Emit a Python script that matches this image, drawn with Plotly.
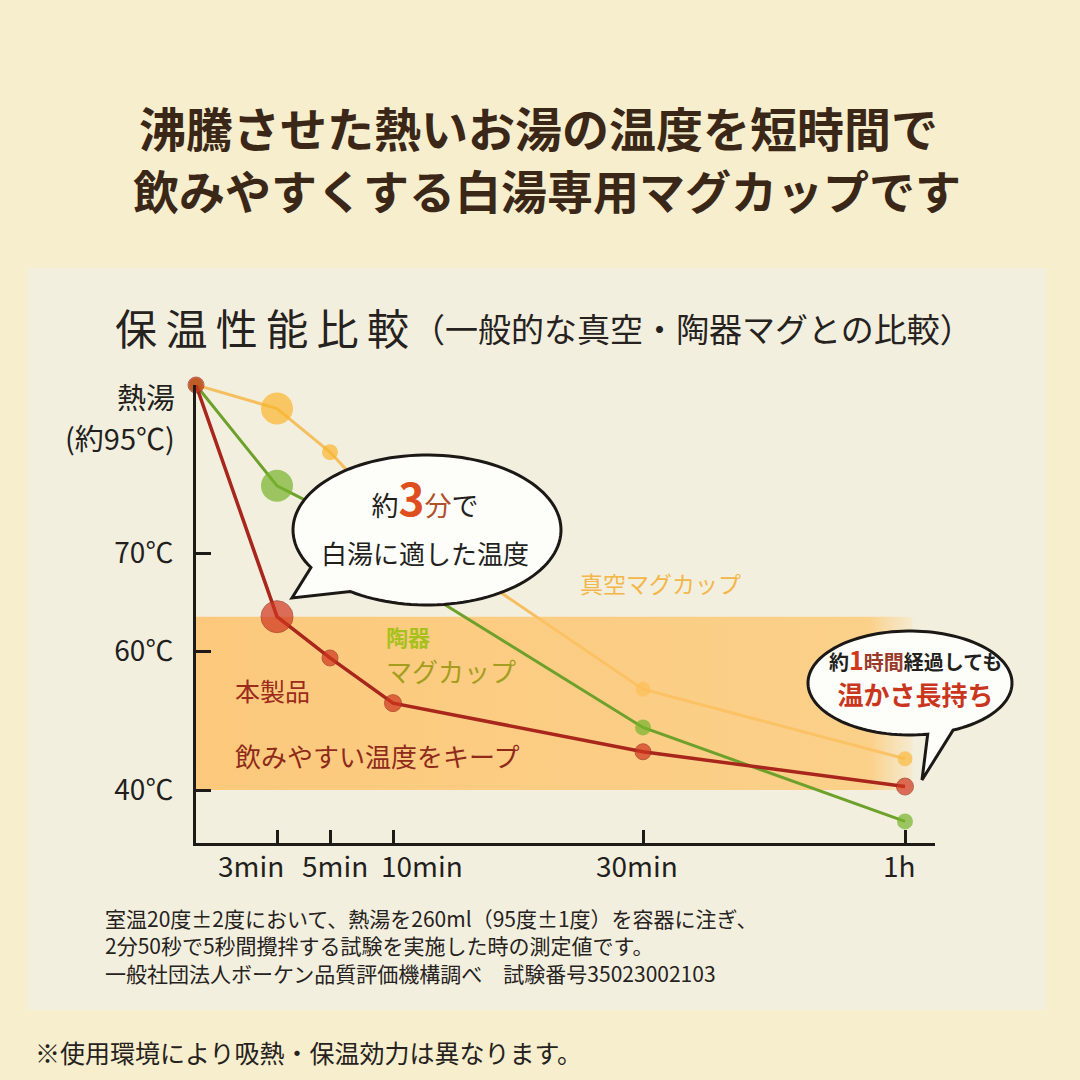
import numpy as np
import plotly.graph_objects as go

# ---------------- data ----------------
time_min = [0, 3, 5, 10, 30, 60]
x_tick_times = [3, 5, 10, 30, 60]
x_tick_labels = ["3min", "5min", "10min", "30min", "1h"]

temp_honsei = [95, 63.5, 59, 52.5, 45.5, 40.5]   # 本製品
temp_toki = [95, 80, 76, 68, 49, 35.5]           # 陶器マグカップ
temp_shinku = [95, 91.5, 85, 75, 54.5, 44.5]     # 真空マグカップ

y_tick_temps = [70, 60, 40]
y_tick_labels = ["70℃", "60℃", "40℃"]

band_temps = [40, 63.5]       # 飲みやすい温度をキープ
band_times = [0, 61]

# ---------------- broken (hand-drawn) axis scales of the original ----------------
X_SCALE_MIN = [0, 3, 5, 10, 30, 60, 64]
X_SCALE_POS = [0, 81, 134, 197, 447, 709, 739]
Y_SCALE_T = [32.4, 40, 60, 70, 95]
Y_SCALE_POS = [0, 53, 192, 290, 458]


def sx(t):
    return np.interp(t, X_SCALE_MIN, X_SCALE_POS)


def sy(v):
    return np.interp(v, Y_SCALE_T, Y_SCALE_POS)


# plot-area frame in page pixels
L, R, T, B = 196, 935, 385, 843
W, H = 1080, 1080


def px(xp):
    return (xp - L) / (R - L)


def py(yp):
    return (B - yp) / (B - T)


FONT = "Noto Sans CJK JP, Noto Sans, sans-serif"
INK = "#231f1c"

RED_LINE, RED_DOT = "#a8261b", "#d0361f"
GRN_LINE, GRN_DOT = "#6ea12b", "#76b42c"
ORG_LINE, ORG_DOT = "#f5bf5f", "#f9b52c"

fig = go.Figure()

# vacuum mug (drawn first so the band veils its lower part)
fig.add_trace(go.Scatter(
    x=sx(time_min), y=sy(temp_shinku), mode="lines+markers",
    line=dict(color=ORG_LINE, width=3),
    marker=dict(color=ORG_DOT, size=[14, 32, 16, 16, 15, 15], line=dict(width=0)),
    cliponaxis=False, hoverinfo="skip", showlegend=False))

# drinkable-temperature band
bx0, bx1 = sx(band_times[0]), sx(band_times[1])
by0, by1 = sy(band_temps[0]), sy(band_temps[1])
fig.add_trace(go.Scatter(
    x=[bx0, bx1, bx1, bx0, bx0], y=[by0, by0, by1, by1, by0],
    mode="lines", line=dict(width=0), fill="toself",
    fillcolor="rgba(254,194,102,0.75)",
    fillgradient=dict(type="horizontal", colorscale=[
        [0, "rgba(254,190,96,0.78)"], [0.94, "rgba(254,196,104,0.72)"],
        [1, "rgba(254,205,120,0.15)"]]),
    hoverinfo="skip", showlegend=False))

# ceramic mug
fig.add_trace(go.Scatter(
    x=sx(time_min), y=sy(temp_toki), mode="lines+markers",
    line=dict(color=GRN_LINE, width=3),
    marker=dict(color=GRN_DOT, size=[14, 32, 15, 15, 16, 16], line=dict(width=0)),
    cliponaxis=False, hoverinfo="skip", showlegend=False))

# this product
fig.add_trace(go.Scatter(
    x=sx(time_min), y=sy(temp_honsei), mode="lines+markers",
    line=dict(color=RED_LINE, width=3.5),
    marker=dict(color=RED_DOT, size=[16, 32, 16, 17, 16, 17],
                line=dict(width=1, color="#a22a1c")),
    cliponaxis=False, hoverinfo="skip", showlegend=False))


# ---------------- speech bubbles ----------------
def bubble_path(cx, cy, rx, ry, a_lo, a_hi, tip):
    ang = np.radians(np.linspace(a_hi, a_lo + 360, 120))
    pts = [(cx + rx * np.cos(a), cy + ry * np.sin(a)) for a in ang]
    pts.append(tip)
    s = "M " + " L ".join(f"{px(x):.5f},{py(y):.5f}" for x, y in pts) + " Z"
    return s


shapes = [
    dict(type="rect", xref="paper", yref="paper",
         x0=px(28), x1=px(1046), y0=py(268), y1=py(1010),
         fillcolor="#f3efdf", line=dict(width=0), layer="below"),
    dict(type="path", xref="paper", yref="paper",
         path=bubble_path(427, 530, 134, 75, 125, 150, (292, 598)),
         fillcolor="#fdfdfa", line=dict(color="#1b1816", width=3), layer="above"),
    dict(type="path", xref="paper", yref="paper",
         path=bubble_path(910, 683, 102, 52, 65, 80, (922, 780)),
         fillcolor="#fdfdfa", line=dict(color="#1b1816", width=3), layer="above"),
]


def ann(text, x, y, size, color=INK, xa="left", weight="normal"):
    return dict(text=text, x=px(x), y=py(y), xref="paper", yref="paper",
                xanchor=xa, yanchor="middle", showarrow=False,
                font=dict(family=FONT, size=size, color=color, weight=weight))


TITLE = "#3a2717"
anns = [
    ann("沸騰させた熱いお湯の温度を短時間で", 538, 127, 47, TITLE, "center", "bold"),
    ann("飲みやすくする白湯専用マグカップです", 547, 189, 46, TITLE, "center", "bold"),
    ann("\u2009".join("保温性能比較"), 113, 326, 42, "#262220"),
    ann("（一般的な真空・陶器マグとの比較）", 410, 328, 33, "#262220"),
    ann("熱湯", 177, 396, 29, INK, "right"),
    ann("(約95℃)", 177, 437, 29, INK, "right"),
    ann("真空マグカップ", 660, 583, 23, "#f2b649", "center"),
    ann("陶器", 384, 636, 22, "#a6c11c", "left", "bold"),
    ann("マグカップ", 384, 670, 26, "#a59d1d"),
    ann("本製品", 233, 690, 25, "#9b2b1c"),
    ann("飲みやすい温度をキープ", 233, 755, 26, "#8f2a1b"),
    # bubble 1 (two lines in one text)
    ann("<span style='font-size:27px'>約</span>"
        "<span style='font-size:44px;color:#df4f1e'><b>3</b></span>"
        "<span style='font-size:27px;color:#b0502a'>分</span>"
        "<span style='font-size:27px'>で</span><br>"
        "<span style='font-size:26px'>白湯に適した温度</span>",
        425, 518, 37, INK, "center"),
    # bubble 2 (two lines in one text)
    ann("<span style='font-size:20px'>約</span>"
        "<span style='font-size:25px;color:#d0381c'>1</span>"
        "<span style='font-size:20px;color:#9a3a2a'>時間</span>"
        "<span style='font-size:20px'>経過しても</span><br>"
        "<span style='font-size:26px;color:#c9361d'>温かさ長持ち</span>",
        915, 676, 27, INK, "center", "bold"),
    ann("室温20度±2度において、熱湯を260ml（95度±1度）を容器に注ぎ、<br>"
        "2分50秒で5秒間攪拌する試験を実施した時の測定値です。<br>"
        "一般社団法人ボーケン品質評価機構調べ　試験番号35023002103",
        103, 945, 21, "#262220"),
    ann("※使用環境により吸熱・保温効力は異なります。", 33, 1052, 25, "#262220"),
]
anns[-2]["align"] = "left"

# x tick labels (slightly offset from their ticks as in the original print)
x_label_shift = [-26, 5, 29, -6, -6]
for t, lab, sh in zip(x_tick_times, x_tick_labels, x_label_shift):
    anns.append(dict(text=lab, x=sx(t), y=py(865), xref="x", yref="paper",
                     xanchor="center", yanchor="middle", xshift=sh, showarrow=False,
                     font=dict(family=FONT, size=28, color=INK)))

fig.update_layout(
    width=W, height=H,
    margin=dict(l=L, r=W - R, t=T, b=H - B, pad=0),
    paper_bgcolor="#f6eecd", plot_bgcolor="rgba(0,0,0,0)",
    shapes=shapes, annotations=anns, showlegend=False,
    xaxis=dict(range=[0, R - L], showline=True, linewidth=3, linecolor="#1d1a18",
               ticks="inside", ticklen=13, tickwidth=3, tickcolor="#1d1a18",
               tickvals=list(sx(x_tick_times)), showticklabels=False,
               showgrid=False, zeroline=False, fixedrange=True),
    yaxis=dict(range=[0, B - T], showline=True, linewidth=3, linecolor="#1d1a18",
               ticks="inside", ticklen=15, tickwidth=3, tickcolor="#1d1a18",
               tickvals=list(sy(y_tick_temps)), ticktext=y_tick_labels,
               tickfont=dict(family=FONT, size=28, color=INK), ticklabelstandoff=14,
               showgrid=False, zeroline=False, fixedrange=True),
)

fig.write_html("out.html", config={"displayModeBar": False},
               post_script="document.body.style.margin='0px';"
                           "document.body.style.background='#f6eecd';")
